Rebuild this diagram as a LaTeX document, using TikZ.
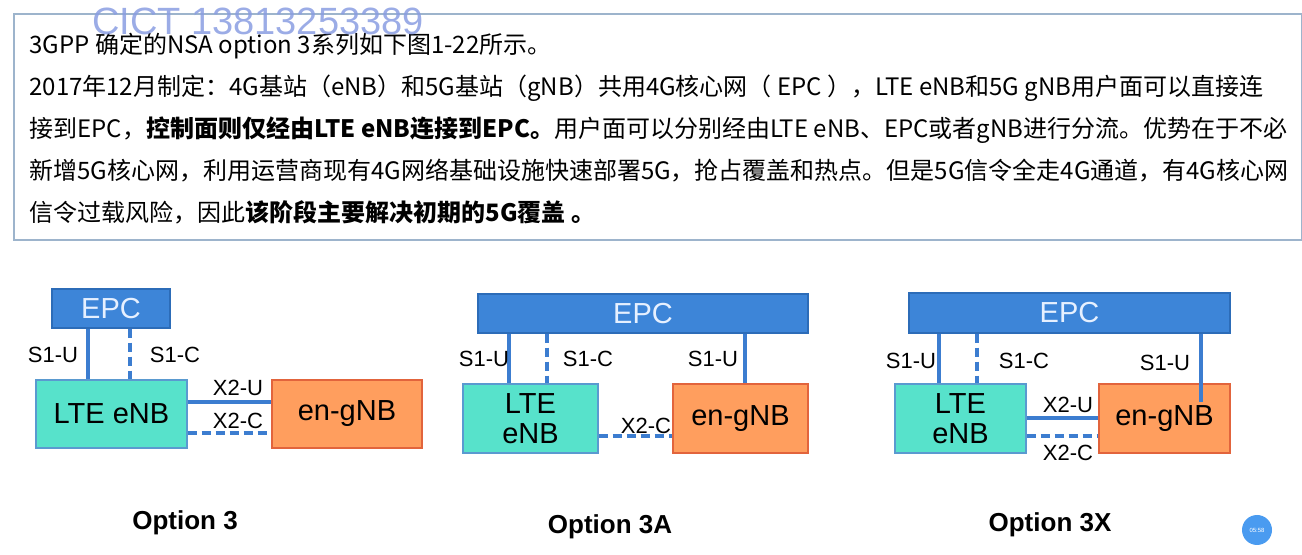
\documentclass[tikz,border=0pt]{standalone}
\usepackage{fontspec}
\setmainfont{Liberation Sans}
\newfontfamily\cjk{Noto Sans CJK SC}
\definecolor{epcblue}{HTML}{3D85D8}
\definecolor{epcline}{HTML}{2C6CB8}
\definecolor{epctext}{HTML}{E6F0FF}
\definecolor{enbfill}{HTML}{57E2CB}
\definecolor{enbline}{HTML}{5A9AD0}
\definecolor{gnbfill}{HTML}{FF9E5E}
\definecolor{gnbline}{HTML}{E2643C}
\definecolor{linkblue}{HTML}{3C7DD0}
\definecolor{frame}{HTML}{9DB4CC}
\definecolor{wmark}{HTML}{8A9DE2}
\definecolor{badge}{HTML}{4A9BF0}
\begin{document}
\begin{tikzpicture}[
    x=0.5pt, y=-0.5pt,
    txt/.style={anchor=base west, inner sep=0, font=\cjk\fontsize{12}{14}\selectfont},
    epcbox/.style={rectangle, draw=epcline, fill=epcblue, text=epctext, line width=0.6pt, inner sep=0, minimum height=19.5pt, font=\fontsize{14.5}{16}\selectfont},
    enbbox/.style={rectangle, draw=enbline, fill=enbfill, line width=0.6pt, inner sep=0, minimum height=34pt, align=center, font=\fontsize{14.5}{15}\selectfont},
    gnbbox/.style={rectangle, draw=gnbline, fill=gnbfill, line width=0.6pt, inner sep=0, minimum height=34pt, font=\fontsize{14.5}{16}\selectfont},
    lbl/.style={inner sep=0, font=\fontsize{11}{12}\selectfont},
    optlbl/.style={inner sep=0, font=\bfseries\fontsize{13}{14}\selectfont},
    uplane/.style={draw=linkblue, line width=1.8pt},
    cplane/.style={draw=linkblue, line width=1.8pt, dash pattern=on 4.5pt off 2.5pt}
]
    \useasboundingbox (0,0) rectangle (1302,555);

    % Text frame
    \node[draw=frame, line width=1pt, inner sep=0, minimum width=644pt, minimum height=113pt] (frame) at (658,127) {};
    \node[txt] (l1) at (29,54) {3GPP 确定的NSA option 3系列如下图1-22所示。};
    \node[txt] (l2) at (29,96) {2017年12月制定：4G基站（eNB）和5G基站（gNB）共用4G核心网（ EPC ），LTE eNB和5G gNB用户面可以直接连};
    \node[txt] (l3) at (29,138) {接到EPC，\textbf{控制面则仅经由LTE eNB连接到EPC。}用户面可以分别经由LTE eNB、EPC或者gNB进行分流。优势在于不必};
    \node[txt] (l4) at (29,180) {新增5G核心网，利用运营商现有4G网络基础设施快速部署5G，抢占覆盖和热点。但是5G信令全走4G通道，有4G核心网};
    \node[txt] (l5) at (29,222) {信令过载风险，因此\textbf{该阶段主要解决初期的5G覆盖 。}};
    \node[inner sep=0, text=wmark, opacity=0.85, font=\fontsize{19}{20}\selectfont] (wm) at (258,21) {CICT 13813253389};

    % Option 3
    \node[epcbox, minimum width=59pt] (epc1) at (111,308.5) {EPC};
    \node[enbbox, minimum width=75.5pt] (enb1) at (111.5,414) {LTE eNB};
    \node[gnbbox, minimum width=75pt] (gnb1) at (347,414) {en-gNB};
    \draw[uplane] (epc1.south -| 88,0) -- (enb1.north -| 88,0);
    \draw[cplane] (epc1.south -| 130,0) -- (enb1.north -| 130,0);
    \draw[uplane] (enb1.east |- 0,402) -- (gnb1.west |- 0,402);
    \draw[cplane] (enb1.east |- 0,433) -- (gnb1.west |- 0,433);
    \node[lbl] (s1u1) at (53,355) {S1-U};
    \node[lbl] (s1c1) at (175,355) {S1-C};
    \node[lbl] (x2u1) at (238,388) {X2-U};
    \node[lbl] (x2c1) at (238,421) {X2-C};
    \node[optlbl] (opt1) at (185,523) {Option 3};

    % Option 3A
    \node[epcbox, minimum width=165pt] (epc2) at (643,313.5) {EPC};
    \node[enbbox, minimum width=67.5pt, minimum height=34.5pt] (enb2) at (530.5,418.5) {LTE\\eNB};
    \node[gnbbox, minimum width=67.5pt, minimum height=34.5pt] (gnb2) at (740.5,418.5) {en-gNB};
    \draw[uplane] (epc2.south -| 509,0) -- (enb2.north -| 509,0);
    \draw[cplane] (epc2.south -| 547,0) -- (enb2.north -| 547,0);
    \draw[uplane] (epc2.south -| 745,0) -- (gnb2.north -| 745,0);
    \draw[cplane] (enb2.east |- 0,436) -- (gnb2.west |- 0,436);
    \node[lbl] (s1u2) at (484,359) {S1-U};
    \node[lbl] (s1c2) at (588,359) {S1-C};
    \node[lbl] (s1u2g) at (713,359) {S1-U};
    \node[lbl] (x2c2) at (646,426) {X2-C};
    \node[optlbl] (opt2) at (610,527) {Option 3A};

    % Option 3X
    \node[epcbox, minimum width=160.5pt, minimum height=20pt] (epc3) at (1069.5,313) {EPC};
    \node[enbbox, minimum width=65.5pt, minimum height=34.5pt] (enb3) at (960.5,418.5) {LTE\\eNB};
    \node[gnbbox, minimum width=65.5pt, minimum height=34.5pt] (gnb3) at (1164.5,418.5) {en-gNB};
    \coordinate (s1end) at (1201,402);
    \draw[uplane] (epc3.south -| 939,0) -- (enb3.north -| 939,0);
    \draw[cplane] (epc3.south -| 977,0) -- (enb3.north -| 977,0);
    \draw[uplane] (epc3.south -| s1end) -- (s1end);
    \draw[uplane] (enb3.east |- 0,418) -- (gnb3.west |- 0,418);
    \draw[cplane] (enb3.east |- 0,436) -- (gnb3.west |- 0,436);
    \node[lbl] (s1u3) at (911,361) {S1-U};
    \node[lbl] (s1c3) at (1024,361) {S1-C};
    \node[lbl] (s1u3g) at (1165,363) {S1-U};
    \node[lbl] (x2u3) at (1068,405) {X2-U};
    \node[lbl] (x2c3) at (1068,453) {X2-C};
    \node[optlbl] (opt3) at (1050,525) {Option 3X};

    % timer badge
    \node[circle, fill=badge, minimum size=15pt, inner sep=0, text=white, font=\fontsize{3}{3}\selectfont] (timer) at (1257,530) {05:58};
\end{tikzpicture}
\end{document}
